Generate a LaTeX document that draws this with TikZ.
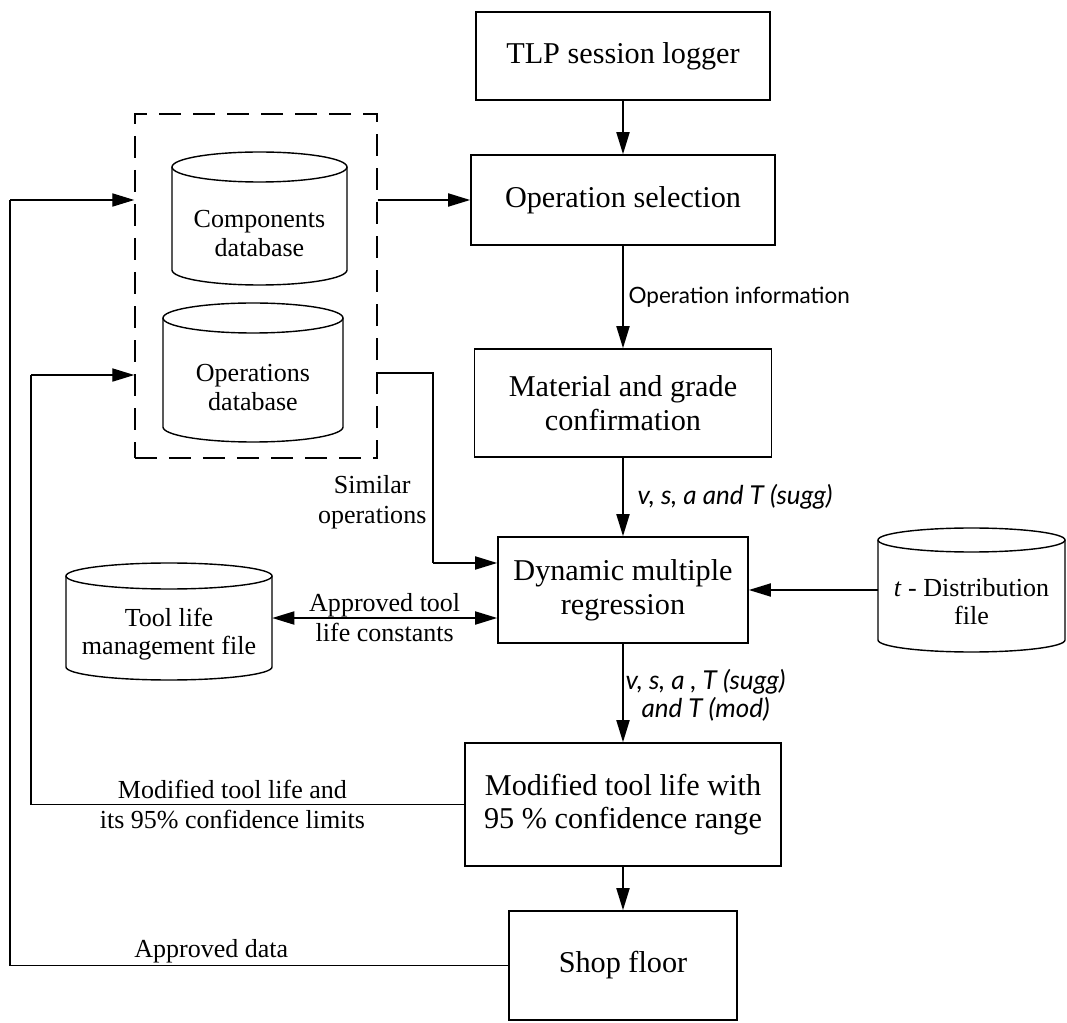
\documentclass[tikz,border=0pt]{standalone}
\usepackage{fontspec}
\setmainfont{Liberation Serif}
\newfontfamily\humanist{Lato}
\usetikzlibrary{arrows.meta,calc}

% cylinder outline: left, right, top, bottom, rim half-height (all in picture units, y downward)
\newcommand{\drumat}[5]{%
  \draw[line width=1pt] ({(#1+#2)/2},{-(#3+#5)}) ellipse [x radius={(#2-#1)/2}, y radius=#5];
  \draw[line width=1pt] (#1,{-(#3+#5)}) -- (#1,{-(#4-#5)})
    arc[start angle=180, end angle=360, x radius={(#2-#1)/2}, y radius=#5] -- (#2,{-(#3+#5)});
}

\tikzset{
  procbox/.style={draw, line width=1.2pt, align=center, inner sep=0pt,
    font=\fontsize{21.5}{24}\selectfont},
  dbframe/.style={inner sep=0pt},
  dbtext/.style={align=center, inner sep=0pt, font=\fontsize{18.5}{20}\selectfont},
  group/.style={draw, line width=1pt, dash pattern=on 0.55cm off 0.3cm, inner sep=0pt},
  flow/.style={line width=0.9pt, -{Triangle[length=0.55cm,width=0.33cm]}},
  twoway/.style={line width=0.9pt, {Triangle[length=0.55cm,width=0.33cm]}-{Triangle[length=0.55cm,width=0.33cm]}},
  wire/.style={line width=0.9pt},
  lbl/.style={align=center, inner sep=0pt, font=\fontsize{18.5}{21.3}\selectfont},
  ilbl/.style={align=center, inner sep=0pt, font=\humanist\itshape\fontsize{18.5}{20}\selectfont},
  slbl/.style={inner sep=0pt, font=\humanist\fontsize{16}{20}\selectfont},
}

\begin{document}
\begin{tikzpicture}[x=0.025cm, y=0.025cm]
  \useasboundingbox (0,0) rectangle (1067,-1023);
  \fill[white] (0,0) rectangle (1067,-1023);

  % main process column
  \node[procbox, minimum width=7.35cm, minimum height=2.2cm] (tlp) at (623,-56) {TLP session logger};
  \node[procbox, minimum width=7.6cm, minimum height=2.25cm] (opsel) at (623,-200) {Operation selection};
  \node[procbox, minimum width=7.425cm, minimum height=2.7cm] (mat) at (623,-403) {Material and grade\\confirmation};
  \node[procbox, minimum width=6.25cm, minimum height=2.65cm] (dyn) at (623,-590) {Dynamic multiple\\regression};
  \node[procbox, minimum width=7.9cm, minimum height=3.075cm] (modf) at (623,-804.5) {Modified tool life with\\95 \% confidence range};
  \node[procbox, minimum width=5.7cm, minimum height=2.725cm] (shop) at (623,-965.5) {Shop floor};

  % databases and files
  \drumat{172}{347}{152}{285}{15}
  \node[dbframe, minimum width=4.375cm, minimum height=3.325cm] (comp) at (259.5,-218.5) {};
  \node[dbtext] (comptext) at ([yshift=-0.375cm]comp.center) {Components\\database};

  \drumat{163}{343}{303}{442}{15}
  \node[dbframe, minimum width=4.5cm, minimum height=3.475cm] (ops) at (253,-372.5) {};
  \node[dbtext] (opstext) at ([yshift=-0.375cm]ops.center) {Operations\\database};

  \drumat{66}{272}{563}{680}{13}
  \node[dbframe, minimum width=5.15cm, minimum height=2.925cm] (tool) at (169,-621.5) {};
  \node[dbtext] (tooltext) at ([yshift=-0.325cm]tool.center) {Tool life\\management file};

  \drumat{878}{1065}{528}{652}{12}
  \node[dbframe, minimum width=4.675cm, minimum height=3.1cm] (tdist) at (971.5,-590) {};
  \node[dbtext] (tdisttext) at ([yshift=-0.3cm]tdist.center) {\textit{t} - Distribution\\file};

  % dashed group around the two databases
  \node[group, minimum width=6.05cm, minimum height=8.6cm] (grp) at (256,-286) {};

  % connection points
  \coordinate (simbend) at (433,-373);
  \coordinate (dynsim) at ([yshift=0.675cm]dyn.west);
  \coordinate (dyntool) at ([yshift=-0.7cm]dyn.west);
  \coordinate (grpops) at ([yshift=-2.225cm]grp.west);
  \coordinate (fbmod) at (31,-804.5);
  \coordinate (fbshop) at (10,-965.5);

  % main flow
  \draw[flow] (tlp.south) -- (opsel.north);
  \draw[flow] (opsel.south) -- node[slbl, anchor=west, xshift=0.125cm] {Operation information} (mat.north);
  \draw[flow] (mat.south) -- node[ilbl, anchor=west, xshift=0.35cm] {v,\ s,\ a and T (sugg)} (dyn.north);
  \draw[flow] (dyn.south) -- node[ilbl, anchor=west, xshift=0.05cm, yshift=-0.05cm] {v,\ s,\ a ,\ T (sugg)\\and T (mod)} (modf.north);
  \draw[flow] (modf.south) -- (shop.north);

  % database links
  \draw[flow] (grp.east |- opsel.west) -- (opsel.west);
  \draw[wire] (grp.east |- simbend) -- (simbend)
    -- node[lbl, anchor=east, pos=0.68, xshift=-0.15cm] {Similar\\operations} (simbend |- dynsim);
  \draw[flow] (simbend |- dynsim) -- (dynsim);
  \draw[twoway] (tool.east |- dyntool) -- node[lbl] {Approved tool\\life constants} (dyntool);
  \draw[flow] (tdist.west |- dyn.east) -- (dyn.east);

  % feedback loops
  \draw[wire] (modf.west) -- node[lbl, pos=0.535] {Modified tool life and\\its 95\% confidence limits} (fbmod) -- (fbmod |- grpops);
  \draw[flow] (fbmod |- grpops) -- (grpops);
  \draw[wire] (shop.west) -- node[lbl, anchor=base, pos=0.596, yshift=0.2cm] {Approved data} (fbshop) -- (fbshop |- opsel.west);
  \draw[flow] (fbshop |- opsel.west) -- (grp.west |- opsel.west);
\end{tikzpicture}
\end{document}
